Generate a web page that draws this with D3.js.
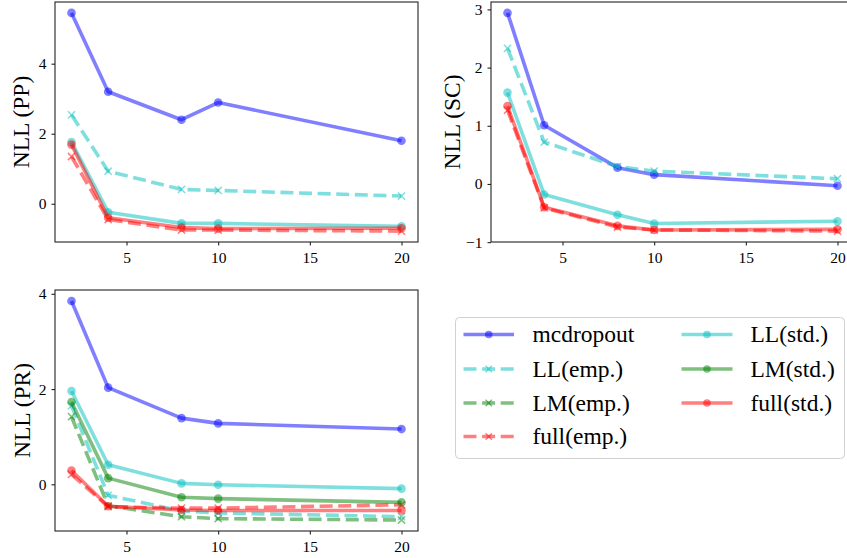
<!doctype html>
<html>
<head>
<meta charset="utf-8">
<style>
  body { margin: 0; background: #fff; }
  svg text { font-family: "Liberation Serif", "Times New Roman", serif; fill: #000; }
  .axis path, .axis line { stroke: #222; stroke-width: 1.1; }
</style>
</head>
<body>
<svg width="847" height="558"></svg>
<script src="https://cdnjs.cloudflare.com/ajax/libs/d3/7.8.5/d3.min.js"></script>
<script>
// shared x values and tick labels
var xValues = [2, 4, 8, 10, 20];
var xTicks = [5, 10, 15, 20];

var seriesNames = ["mcdropout", "LL(emp.)", "LM(emp.)", "full(emp.)", "LL(std.)", "LM(std.)", "full(std.)"];

// panel PP
var ppMcdropout = [5.45, 3.20, 2.40, 2.89, 1.80];
var ppLLemp     = [2.54, 0.93, 0.41, 0.38, 0.22];
var ppFullEmp   = [1.35, -0.45, -0.75, -0.75, -0.78];
var ppLLstd     = [1.76, -0.24, -0.56, -0.56, -0.64];
var ppFullStd   = [1.69, -0.40, -0.68, -0.71, -0.70];
var ppTicks = [0, 2, 4];

// panel SC
var scMcdropout = [2.94, 1.01, 0.28, 0.16, -0.03];
var scLLemp     = [2.33, 0.72, 0.30, 0.22, 0.09];
var scFullEmp   = [1.27, -0.41, -0.74, -0.79, -0.81];
var scLLstd     = [1.57, -0.18, -0.53, -0.68, -0.64];
var scFullStd   = [1.34, -0.40, -0.72, -0.79, -0.78];
var scTicks = [-1, 0, 1, 2, 3];

// panel PR
var prMcdropout = [3.85, 2.03, 1.39, 1.28, 1.16];
var prLLemp     = [1.65, -0.23, -0.56, -0.60, -0.68];
var prLMemp     = [1.42, -0.45, -0.68, -0.72, -0.75];
var prFullEmp   = [0.21, -0.47, -0.50, -0.50, -0.43];
var prLLstd     = [1.96, 0.41, 0.02, -0.01, -0.09];
var prLMstd     = [1.73, 0.13, -0.27, -0.30, -0.38];
var prFullStd   = [0.29, -0.46, -0.54, -0.55, -0.55];
var prTicks = [0, 2, 4];

var styles = {
  "mcdropout":  { color: "#0000ff", dash: false },
  "LL(emp.)":   { color: "#00c0c0", dash: true },
  "LM(emp.)":   { color: "#008000", dash: true },
  "full(emp.)": { color: "#ff0000", dash: true },
  "LL(std.)":   { color: "#00c0c0", dash: false },
  "LM(std.)":   { color: "#008000", dash: false },
  "full(std.)": { color: "#ff0000", dash: false }
};

var panels = [
  { label: "NLL (PP)", box: [55, 2, 418, 242], ticks: ppTicks, labelX: 21,
    series: [ppMcdropout, ppLLemp, null, ppFullEmp, ppLLstd, null, ppFullStd] },
  { label: "NLL (SC)", box: [491, 2, 854, 242], ticks: scTicks, labelX: 452,
    series: [scMcdropout, scLLemp, null, scFullEmp, scLLstd, null, scFullStd] },
  { label: "NLL (PR)", box: [55, 290, 418, 531], ticks: prTicks, labelX: 22,
    series: [prMcdropout, prLLemp, prLMemp, prFullEmp, prLLstd, prLMstd, prFullStd] }
];

var svg = d3.select("svg");
var lw = 3.6;

function drawMarker(g, name, cx, cy, size) {
  var st = styles[name];
  if (st.dash) {
    var s = size;
    g.append("path")
      .attr("d", "M" + (cx - s) + "," + (cy - s) + "L" + (cx + s) + "," + (cy + s) +
                 "M" + (cx - s) + "," + (cy + s) + "L" + (cx + s) + "," + (cy - s))
      .attr("stroke", st.color).attr("stroke-opacity", 0.5)
      .attr("stroke-width", 1.5).attr("fill", "none");
  } else {
    g.append("circle").attr("cx", cx).attr("cy", cy).attr("r", size)
      .attr("fill", st.color).attr("fill-opacity", 0.5);
  }
}

panels.forEach(function(p) {
  var b = p.box;
  var all = [];
  p.series.forEach(function(s) { if (s) all = all.concat(s); });
  var lo = d3.min(all), hi = d3.max(all), pad = (hi - lo) * 0.05;

  var x = d3.scaleLinear().domain([1.1, 20.9]).range([b[0], b[2]]);
  var y = d3.scaleLinear().domain([lo - pad, hi + pad]).range([b[3], b[1]]);

  var g = svg.append("g");

  var line = d3.line()
    .x(function(d, i) { return x(xValues[i]); })
    .y(function(d) { return y(d); });

  p.series.forEach(function(vals, k) {
    if (!vals) return;
    var name = seriesNames[k], st = styles[name];
    g.append("path")
      .datum(vals)
      .attr("d", line)
      .attr("fill", "none")
      .attr("stroke", st.color)
      .attr("stroke-opacity", 0.5)
      .attr("stroke-width", lw)
      .attr("stroke-linejoin", "round")
      .attr("stroke-dasharray", st.dash ? "13,5.6" : null);
    vals.forEach(function(v, i) {
      drawMarker(g, name, x(xValues[i]), y(v), st.dash ? 3.6 : 4.3);
    });
  });

  // frame
  svg.append("rect")
    .attr("x", b[0]).attr("y", b[1])
    .attr("width", b[2] - b[0]).attr("height", b[3] - b[1])
    .attr("fill", "none").attr("stroke", "#222").attr("stroke-width", 1.1);

  var xAxis = svg.append("g").attr("class", "axis")
    .attr("transform", "translate(0," + b[3] + ")")
    .call(d3.axisBottom(x).tickValues(xTicks).tickSize(3.5).tickPadding(6));
  xAxis.select(".domain").remove();
  xAxis.selectAll("text").style("font-size", "15.5px").style("font-family", "Liberation Serif");

  var yAxis = svg.append("g").attr("class", "axis")
    .attr("transform", "translate(" + b[0] + ",0)")
    .call(d3.axisLeft(y).tickValues(p.ticks).tickSize(3.5).tickPadding(5)
      .tickFormat(function(d) { return d < 0 ? "\u2212" + Math.abs(d) : d; }));
  yAxis.select(".domain").remove();
  yAxis.selectAll("text").style("font-size", "15.5px").style("font-family", "Liberation Serif");

  svg.append("text")
    .attr("transform", "translate(" + p.labelX + "," + ((b[1] + b[3]) / 2) + ") rotate(-90)")
    .attr("text-anchor", "middle")
    .attr("dy", "0.35em")
    .style("font-size", "23.5px")
    .text(p.label);
});

// legend
var legend = svg.append("g");
legend.append("rect")
  .attr("x", 455.5).attr("y", 317.5).attr("width", 389).attr("height", 141)
  .attr("rx", 4).attr("fill", "#fff").attr("stroke", "#d0d0d0").attr("stroke-width", 1);

var rowY = [334.5, 369, 403, 436.5];
var cols = [{ x0: 463.5, x1: 514, tx: 532.5 }, { x0: 681.5, x1: 732.5, tx: 750.5 }];
seriesNames.forEach(function(name, k) {
  var c = k < 4 ? cols[0] : cols[1];
  var ry = rowY[k < 4 ? k : k - 4];
  var st = styles[name];
  legend.append("line")
    .attr("x1", c.x0).attr("x2", c.x1).attr("y1", ry).attr("y2", ry)
    .attr("stroke", st.color).attr("stroke-opacity", 0.5).attr("stroke-width", lw)
    .attr("stroke-dasharray", st.dash ? "13,5.6" : null);
  drawMarker(legend, name, (c.x0 + c.x1) / 2, ry, st.dash ? 3.2 : 3.8);
  legend.append("text")
    .attr("x", c.tx).attr("y", ry).attr("dy", "0.33em")
    .style("font-size", "23.5px")
    .text(name);
});
</script>
</body>
</html>
